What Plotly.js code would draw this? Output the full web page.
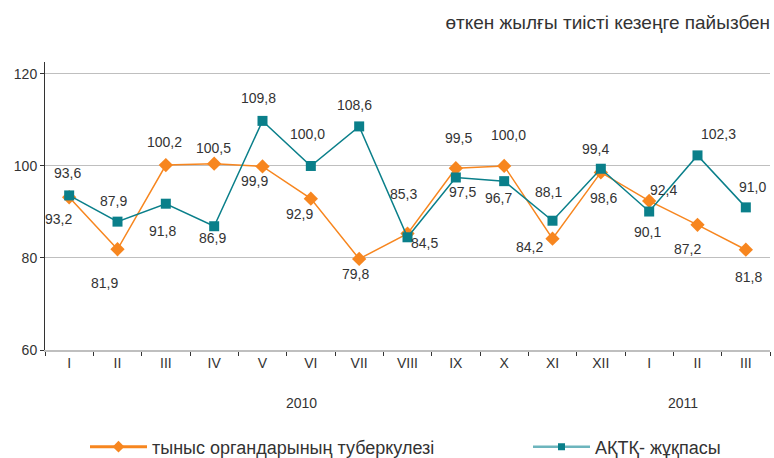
<!DOCTYPE html>
<html>
<head>
<meta charset="utf-8">
<script src="https://cdn.plot.ly/plotly-3.0.1.min.js"></script>
<style>html,body{margin:0;padding:0;background:#fff;}#chart{width:774px;height:458px;}</style>
</head>
<body>
<div id="chart"></div>
<script>
// ---- data ----
const monthLabels = ["I","II","III","IV","V","VI","VII","VIII","IX","X","XI","XII","I","II","III"];
const tuberculosis = [93.2, 81.9, 100.2, 100.5, 99.9, 92.9, 79.8, 85.3, 99.5, 100.0, 84.2, 98.6, 92.4, 87.2, 81.8];
const hiv = [93.6, 87.9, 91.8, 86.9, 109.8, 100.0, 108.6, 84.5, 97.5, 96.7, 88.1, 99.4, 90.1, 102.3, 91.0];
const seriesNames = ["тыныс органдарының туберкулезі", "АҚТҚ- жұқпасы"];
const yearLabels = ["2010", "2011"];
const titleText = "өткен жылғы тиісті кезеңге пайызбен";

// ---- label placement (pixel shifts: right, down) ----
const tbShift = [[-11,22],[-13,34],[-1,-23],[-1,-16],[-8,15],[-11,15],[-4,15],[-4,-40],[3,-30],[4,-31],[-23,8],[3,26],[14,-11],[-10,24],[3,27]];
const hivShift = [[-2,-22],[-4,-21],[-3,27],[-2,12],[-4,-23],[-3,-32],[-5,-21],[17,6],[7,15],[-6,17],[-4,-29],[-5,-20],[-2,20],[21,-21],[7,-20]];

const xIdx = monthLabels.map((_, i) => i);
const orange = "#F7861F";
const teal = "#0A7F8A";
const tealLight = "#6DB5BD";
const fmt = v => v.toFixed(1).replace(".", ",");

const traces = [
  {x: xIdx, y: tuberculosis, name: seriesNames[0], type: "scatter", mode: "lines+markers", showlegend: false,
   line: {color: orange, width: 1.5}, marker: {symbol: "diamond", size: 11, color: orange}},
  {x: xIdx, y: hiv, name: seriesNames[1], type: "scatter", mode: "lines+markers", showlegend: false,
   line: {color: teal, width: 1.5}, marker: {symbol: "square", size: 10, color: teal}},
  // legend entries
  {x: [null], y: [null], name: seriesNames[0], type: "scatter", mode: "lines+markers", legend: "legend",
   line: {color: orange, width: 3}, marker: {symbol: "diamond", size: 9, color: orange}},
  {x: [null], y: [null], name: seriesNames[1], type: "scatter", mode: "lines+markers", legend: "legend2",
   line: {color: tealLight, width: 2.5}, marker: {symbol: "square", size: 7, color: teal}}
];

const annotations = [];
function addLabels(vals, shifts) {
  vals.forEach((v, i) => {
    annotations.push({x: i, y: v, xref: "x", yref: "y", text: fmt(v), showarrow: false,
      xshift: shifts[i][0], yshift: -shifts[i][1], font: {size: 14, color: "#333"}});
  });
}
addLabels(tuberculosis, tbShift);
addLabels(hiv, hivShift);
annotations.push({x: 4.8, y: (350 - 403) / 288, xref: "x", yref: "paper", text: yearLabels[0], showarrow: false, yanchor: "middle", font: {size: 14, color: "#333"}});
annotations.push({x: 12.7, y: (350 - 403) / 288, xref: "x", yref: "paper", text: yearLabels[1], showarrow: false, yanchor: "middle", font: {size: 14, color: "#333"}});

const boundaries = [];
for (let i = 0; i <= monthLabels.length; i++) boundaries.push(i - 0.5);

const legendY = (350 - 447) / 288;
const layout = {
  width: 774, height: 458,
  margin: {l: 45, r: 4, t: 62, b: 108, autoexpand: false},
  paper_bgcolor: "#fff", plot_bgcolor: "#fff",
  font: {family: "Liberation Sans, Arial, sans-serif", size: 14, color: "#333"},
  title: {text: titleText, x: 0.995, xanchor: "right", xref: "container", y: 1 - 22/458, yanchor: "middle", yref: "container",
          font: {size: 19, color: "#333"}},
  showlegend: true,
  legend: {orientation: "h", x: (85 - 45) / 725, xanchor: "left", y: legendY, yanchor: "middle",
           itemwidth: 57, font: {size: 18, color: "#333"}, bgcolor: "rgba(0,0,0,0)"},
  legend2: {orientation: "h", x: (528 - 45) / 725, xanchor: "left", y: legendY, yanchor: "middle",
           itemwidth: 57, font: {size: 18, color: "#333"}, bgcolor: "rgba(0,0,0,0)"},
  xaxis: {range: [-0.5, 14.5], tickmode: "array", tickvals: xIdx, ticktext: monthLabels,
          ticks: "", showgrid: false, zeroline: false, showline: true, linecolor: "#BFBFBF", linewidth: 1.5,
          tickfont: {size: 14, color: "#333"},
          minor: {tickmode: "array", tickvals: boundaries, ticks: "outside", ticklen: 4, tickcolor: "#333", tickwidth: 1, showgrid: false}},
  yaxis: {range: [60, 122.6], tickmode: "array", tickvals: [60, 80, 100, 120], ticks: "outside", ticklen: 4, tickcolor: "#333",
          showgrid: true, gridcolor: "#BFBFBF", gridwidth: 1, zeroline: false, showline: true, linecolor: "#333", linewidth: 1,
          tickfont: {size: 14, color: "#333"}},
  annotations: annotations
};

Plotly.newPlot("chart", traces, layout, {displayModeBar: false, staticPlot: true});
</script>
</body>
</html>
